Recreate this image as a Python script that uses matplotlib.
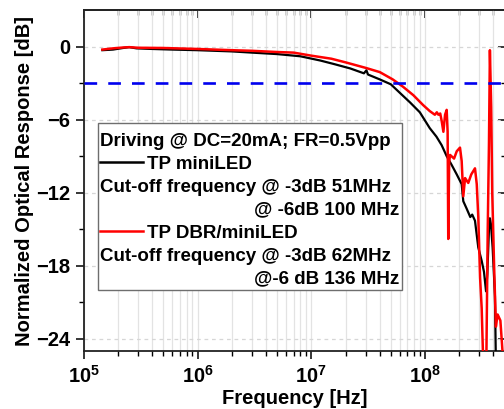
import numpy as np
import matplotlib
matplotlib.use("Agg")
import matplotlib.pyplot as plt
from matplotlib.ticker import LogLocator, FixedLocator, FuncFormatter, NullFormatter
from matplotlib.patches import Rectangle

plt.rcParams['font.family'] = ['Liberation Sans', 'DejaVu Sans']
plt.rcParams['font.weight'] = 'bold'
plt.rcParams['mathtext.fontset'] = 'custom'
plt.rcParams['mathtext.rm'] = 'Liberation Sans:bold'
plt.rcParams['mathtext.bf'] = 'Liberation Sans:bold'

# TP miniLED (black)
f_mini = [1.45e5, 1.8e5, 2.2e5, 2.5e5, 2.9e5, 4e5, 6e5, 1e6, 2e6, 3e6, 5e6,
          8e6, 1.2e7, 1.6e7, 2.2e7, 2.9e7, 3.05e7, 3.15e7, 4.0e7, 5.0e7, 6.0e7,
          7.4e7, 9.0e7, 1.1e8, 1.26e8, 1.4e8, 1.55e8, 1.71e8, 1.9e8, 2.1e8,
          2.17e8, 2.32e8, 2.5e8, 2.6e8, 2.75e8, 2.94e8, 3.15e8, 3.3e8, 3.44e8,
          3.53e8, 3.65e8, 3.72e8, 3.8e8, 3.93e8, 4.05e8, 4.12e8, 4.2e8]
db_mini = [-0.30, -0.25, -0.12, -0.05, -0.15, -0.2, -0.25, -0.3, -0.4, -0.5,
           -0.62, -0.8, -1.15, -1.45, -1.8, -2.2, -1.95, -2.3, -2.7, -3.1,
           -3.8, -4.6, -5.4, -6.7, -7.4, -8.1, -9.0, -9.7, -10.5, -11.3, -12.7,
           -13.3, -14.0, -13.8, -14.3, -16.5, -17.6, -18.5, -20.1, -18.7,
           -15.0, -14.1, -14.6, -16.5, -19.0, -20.5, -26.0]

# TP DBR/miniLED (red)
f_dbr = [1.45e5, 1.8e5, 2.2e5, 2.5e5, 3e5, 5e5, 1e6, 2e6, 3e6, 5e6, 7e6,
         1.0e7, 1.5e7, 2.0e7, 3.0e7, 4.0e7, 5.2e7, 6.4e7, 7.9e7, 9.6e7, 1.1e8,
         1.22e8, 1.27e8, 1.31e8, 1.36e8, 1.4e8, 1.45e8, 1.5e8, 1.55e8, 1.58e8,
         1.6e8, 1.63e8, 1.66e8, 1.8e8, 1.9e8, 2.03e8, 2.1e8, 2.17e8, 2.25e8,
         2.4e8, 2.55e8, 2.75e8, 2.85e8, 2.94e8, 3.05e8, 3.15e8, 3.25e8,
         3.46e8, 3.56e8, 3.65e8, 3.72e8, 3.82e8, 3.9e8, 4.05e8, 4.2e8, 4.35e8,
         4.6e8, 4.8e8, 5.0e8]
db_dbr = [-0.25, -0.15, -0.08, -0.05, -0.1, -0.12, -0.2, -0.3, -0.35, -0.45,
          -0.5, -0.75, -1.0, -1.3, -1.75, -2.1, -2.7, -3.3, -4.0, -4.8, -5.3,
          -5.6, -5.4, -5.6, -5.5, -6.1, -7.0, -5.6, -5.2, -7.0, -15.8, -9.5,
          -8.9, -9.2, -8.6, -8.3, -9.4, -12.3, -10.8, -11.2, -10.5, -10.0,
          -11.3, -14.0, -19.0, -21.5, -26.0, -26.0, -15.0, -8.0, -0.3, -5.0,
          -12.0, -18.0, -23.0, -22.0, -22.5, -25.0, -26.0]

cutoff_db = -3
y_major = [0, -6, -12, -18, -24]
y_minor = [-3, -9, -15, -21]

legend_lines = ["Driving @ DC=20mA; FR=0.5Vpp",
                "TP miniLED",
                "Cut-off frequency @ -3dB 51MHz",
                "@ -6dB 100 MHz",
                "TP DBR/miniLED",
                "Cut-off frequency @ -3dB 62MHz",
                "@-6 dB 136 MHz"]

fig = plt.figure(figsize=(5.04, 4.09), dpi=100)
ax = fig.add_axes([84 / 504, 58 / 409, 420.5 / 504, 341 / 409])

ax.set_xscale('log')
ax.set_xlim(1e5, 5e8)
ax.set_ylim(-25, 3)

# grid
ax.xaxis.set_major_locator(LogLocator(base=10, numticks=10))
ax.xaxis.set_minor_locator(LogLocator(base=10, subs=np.arange(2, 10), numticks=20))
ax.grid(True, which='both', axis='x', color='#e3e3e3', lw=0.9, zorder=0)
ax.grid(True, which='major', axis='y', color='#d6d6d6', lw=0.9, ls=(0, (3, 3)), zorder=0)

ax.plot(f_mini, db_mini, color='black', lw=1.6, zorder=3)
ax.plot(f_dbr, db_dbr, color='red', lw=1.8, zorder=4)
ax.axhline(cutoff_db, color='#0000ee', lw=1.9, ls=(0, (4.8, 4.2)), zorder=5)

# ticks
ax.set_yticks(y_major, labels=['\u2212%d' % -v if v < 0 else '%d' % v for v in y_major],
              fontweight='bold', fontsize=14.5)
ax.yaxis.set_minor_locator(FixedLocator(y_minor))
ax.xaxis.set_major_formatter(FuncFormatter(lambda v, p: r'$\mathbf{10^{%d}}$' % round(np.log10(v))))
ax.xaxis.set_minor_formatter(NullFormatter())
ax.tick_params(axis='both', which='major', direction='out', length=6, width=1.1,
               labelsize=14.5, pad=4, top=False, right=False)
ax.tick_params(axis='both', which='minor', direction='out', length=3.5, width=1.0,
               top=False, right=False)

sec_x = ax.secondary_xaxis('top')
sec_x.tick_params(which='major', direction='in', length=6, width=1.1, labeltop=False)
sec_x.tick_params(which='minor', direction='in', length=3.5, width=1.0)
sec_x.xaxis.set_major_formatter(NullFormatter())
sec_y = ax.secondary_yaxis('right')
sec_y.set_yticks(y_major)
sec_y.yaxis.set_minor_locator(FixedLocator(y_minor))
sec_y.tick_params(which='major', direction='in', length=5, width=1.1, labelright=False)
sec_y.tick_params(which='minor', direction='in', length=3, width=1.0)

for a in (ax, sec_x, sec_y):
    for s in a.spines.values():
        s.set_linewidth(1.3)
        s.set_color('#222222')

ax.set_xlabel('Frequency [Hz]', fontsize=14.5, fontweight='bold')
ax.set_ylabel('Normalized Optical Response [dB]', fontsize=14.5, fontweight='bold')
ax.xaxis.set_label_coords(0.5, -0.111)
ax.yaxis.label.set_va('bottom')
ax.yaxis.set_label_coords(-0.118, 0.5)

# legend box drawn by hand (mixed handle / text rows)
box = Rectangle((0.0333, 0.179), 0.7229, 0.4896, transform=ax.transAxes,
                facecolor='white', edgecolor='#6e6e6e', lw=1.0, zorder=6)
ax.add_patch(box)
row_y = 0.6217
step = 23 / 341
handles = {1: 'black', 4: 'red'}
for i, txt in enumerate(legend_lines):
    yc = row_y - i * step
    yb = yc - 6.5 / 341
    if i in handles:
        ax.plot([0.038, 0.140], [yc, yc], transform=ax.transAxes,
                color=handles[i], lw=1.8, zorder=7)
        ax.text(0.150, yb, txt, transform=ax.transAxes, fontsize=13.5,
                fontweight='bold', va='baseline', ha='left', zorder=7)
    elif txt.startswith('@'):
        ax.text(0.749, yb, txt, transform=ax.transAxes, fontsize=13.5,
                fontweight='bold', va='baseline', ha='right', zorder=7)
    else:
        ax.text(0.038, yb, txt, transform=ax.transAxes, fontsize=13.5,
                fontweight='bold', va='baseline', ha='left', zorder=7)

fig.savefig('out.png', dpi=100)
